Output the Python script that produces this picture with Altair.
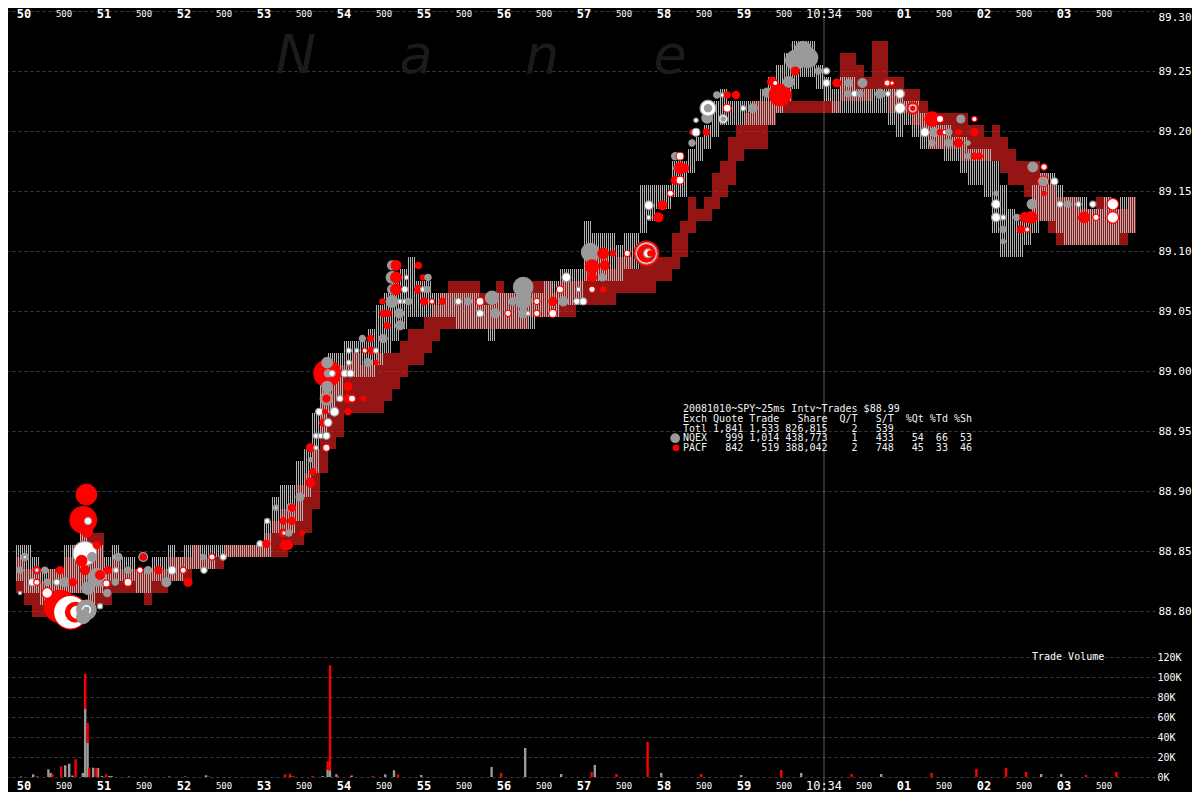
import altair as alt
import pandas as pd

MONO = "DejaVu Sans Mono"
GRID = "#3c3c3c"
NQEX_C = "#9a9a9a"
PACF_C = "#ff0000"
NQEX_Q = "#b4b4b4"
PACF_Q = "#f02020"

# ---------------------------------------------------------------- data
# Quote bands per 0.1 s slot (slot i starts -0.1 + 0.1*i s after 10:33:50), in cents above $88.00
nqex_bid = [83, 82, 82, 81, 80, 81, 82, 82, 82, 81,
            82, 83, 83, 83, 83, 82, 82, 83, 83, 83,
            83, 84, 84, 84, 84, 85, 85, 85, 85, 85,
            85, 85, 87, 87, 87, 88, 90, 92, 95, 97,
            98, 100, 100, 100, 100, 101, 102, 103, 104, 105,
            105, 105, 105, 105, 105, 104, 104, 104, 104, 103,
            104, 104, 104, 104, 104, 105, 105, 105, 106, 106,
            106, 108, 108, 108, 108, 108, 109, 109, 112, 113,
            114, 114, 115, 115, 117, 118, 119, 120, 121, 121,
            121, 121, 121, 121, 121, 122, 123, 124, 125, 125,
            124, 123, 122, 122, 122, 122, 122, 122, 122, 121,
            120, 121, 120, 119, 119, 119, 118, 118, 117, 116,
            116, 115, 112, 110, 110, 110, 111, 112, 113, 113,
            112, 111, 111, 111, 111, 111, 111, 111, 112, 112]
nqex_ask = [86, 86, 85, 84, 84, 84, 86, 86, 87, 86,
            86, 85, 86, 85, 85, 84, 84, 85, 85, 86,
            85, 86, 86, 86, 86, 86, 86, 86, 86, 86,
            86, 88, 90, 91, 91, 93, 94, 97, 101, 102,
            102, 103, 103, 103, 104, 106, 107, 108, 109, 110,
            108, 108, 107, 107, 107, 107, 107, 107, 106, 106,
            107, 107, 107, 106, 107, 107, 108, 108, 109, 109,
            109, 113, 112, 112, 112, 111, 112, 112, 116, 116,
            116, 116, 118, 118, 119, 120, 121, 123, 124, 123,
            123, 123, 123, 124, 125, 126, 127, 128, 128, 128,
            126, 125, 124, 125, 125, 124, 124, 124, 124, 124,
            124, 123, 123, 122, 122, 121, 121, 120, 120, 119,
            119, 119, 118, 116, 114, 113, 113, 116, 117, 117,
            116, 115, 115, 115, 114, 114, 115, 114, 115, 115]
pacf_bid = [82, 81, 80, 80, 80, 81, 82, 82, 82, 81,
            81, 81, 82, 82, 82, 82, 81, 82, 82, 83,
            83, 83, 84, 84, 84, 84, 85, 85, 85, 85,
            85, 85, 85, 85, 86, 86, 87, 89, 92, 94,
            95, 97, 97, 97, 97, 97, 98, 99, 100, 101,
            101, 102, 103, 104, 104, 104, 104, 104, 104, 104,
            104, 104, 104, 104, 105, 105, 105, 105, 105, 105,
            106, 106, 106, 106, 106, 107, 107, 107, 107, 107,
            108, 108, 109, 110, 112, 113, 113, 114, 115, 116,
            118, 119, 119, 119, 121, 122, 122, 122, 122, 122,
            122, 122, 122, 123, 123, 123, 123, 124, 124, 122,
            122, 122, 121, 120, 119, 119, 119, 119, 118, 118,
            118, 118, 118, 117, 116, 116, 115, 113, 113, 112,
            111, 111, 111, 111, 111, 111, 111, 111, 111, 112]
pacf_ask = [85, 84, 84, 83, 84, 84, 85, 86, 87, 87,
            87, 84, 85, 84, 84, 84, 84, 84, 84, 85,
            85, 85, 86, 85, 85, 85, 86, 86, 86, 86,
            86, 87, 88, 89, 89, 91, 92, 94, 99, 101,
            101, 101, 102, 101, 101, 102, 102, 102, 103, 104,
            104, 105, 106, 107, 108, 108, 108, 108, 107, 107,
            108, 107, 107, 107, 108, 108, 108, 107, 108, 108,
            108, 110, 110, 110, 109, 110, 110, 109, 110, 110,
            110, 110, 112, 113, 115, 114, 115, 117, 118, 120,
            121, 122, 123, 123, 123, 124, 124, 123, 123, 123,
            123, 123, 123, 127, 127, 126, 125, 128, 128, 125,
            125, 124, 124, 123, 122, 122, 122, 122, 122, 121,
            121, 120, 121, 120, 119, 118, 118, 118, 117, 116,
            115, 115, 115, 114, 114, 115, 115, 114, 114, 115]

# Trades: (seconds after 10:33:50, price, shares, kind) kind: g=NQEX, r=PACF, w/x = white marks
trades_50 = [
    (0.45, 88.804, 25900, "r"), (0.29, 88.815, 2900, "x"), (0.58, 88.799, 28900, "x"),
    (0.64, 88.799, 9700, "r"), (0.66, 88.799, 5100, "x"), (0.78, 88.801, 9700, "g"),
    (0.78, 88.801, 2900, "w"), (0.78, 88.801, 700, "g"), (0.74, 88.795, 4500, "g"),
    (0.95, 88.804, 700, "w"), (0.78, 88.897, 10600, "r"), (0.74, 88.876, 18000, "r"),
    (0.80, 88.875, 1300, "w"), (0.79, 88.866, 2900, "r"), (0.76, 88.848, 14600, "w"),
    (0.72, 88.842, 2900, "r"), (0.85, 88.845, 2000, "g"), (0.91, 88.855, 1300, "r"),
    (0.91, 88.828, 8000, "g"), (0.80, 88.819, 3900, "g"), (0.76, 88.834, 2000, "r"),
    (0.99, 88.824, 2000, "g"), (0.95, 88.830, 2000, "r"), (1.03, 88.823, 1300, "x"),
]
trades_51 = [
    (0.01, 88.845, 1300, "g"), (0.01, 88.845, 300, "w"), (1.15, 88.845, 700, "w"),
    (1.18, 88.845, 1300, "g"), (1.49, 88.845, 2000, "g"), (1.49, 88.845, 1000, "r"),
    (2.24, 88.845, 700, "g"), (2.35, 88.845, 1000, "x"), (2.49, 88.845, 1000, "w"),
    (-0.05, 88.834, 1000, "g"), (0.16, 88.834, 1300, "r"), (0.16, 88.834, 300, "w"),
    (0.26, 88.834, 1000, "g"), (0.45, 88.834, 1300, "r"), (1.05, 88.834, 1300, "r"),
    (1.15, 88.834, 700, "w"), (1.30, 88.834, 1000, "g"), (1.45, 88.834, 1000, "x"),
    (1.55, 88.834, 1300, "g"), (1.68, 88.834, 1300, "r"), (1.85, 88.834, 1600, "w"),
    (1.99, 88.834, 1000, "x"), (2.25, 88.834, 1000, "w"),
    (0.10, 88.824, 1300, "w"), (0.16, 88.824, 1000, "x"), (0.29, 88.824, 1000, "g"),
    (0.41, 88.824, 1000, "w"), (0.51, 88.824, 2000, "g"), (0.61, 88.824, 1300, "r"),
    (1.14, 88.824, 1000, "g"), (1.30, 88.824, 1600, "x"), (1.78, 88.824, 2000, "g"),
    (2.05, 88.824, 1600, "r"), (-0.05, 88.815, 300, "w"), (1.04, 88.815, 1300, "g"),
]
trades_53 = [
    (2.95, 88.856, 1000, "w"), (3.03, 88.856, 1300, "r"), (3.26, 88.855, 2000, "r"),
    (3.30, 88.855, 2000, "r"), (3.24, 88.865, 1600, "r"), (3.25, 88.865, 300, "w"),
    (3.31, 88.865, 1000, "g"), (3.48, 88.865, 500, "r"), (3.04, 88.875, 700, "w"),
    (3.24, 88.875, 1000, "r"), (3.35, 88.875, 1300, "r"), (3.15, 88.886, 700, "g"),
    (3.15, 88.886, 200, "w"), (3.33, 88.886, 1600, "g"), (3.35, 88.886, 1300, "r"),
    (3.45, 88.895, 1600, "g"), (3.58, 88.907, 2000, "r"), (3.61, 88.916, 1000, "r"),
    (3.58, 88.926, 500, "g"), (3.58, 88.936, 1600, "r"), (3.65, 88.936, 500, "w"),
    (3.78, 88.936, 1300, "x"), (3.65, 88.946, 700, "w"), (3.71, 88.946, 700, "w"),
    (3.78, 88.946, 1300, "w"), (3.74, 88.957, 1300, "r"), (3.80, 88.957, 1600, "w"),
    (3.69, 88.966, 1300, "w"), (3.76, 88.966, 500, "r"), (3.88, 88.966, 2000, "w"),
    (4.05, 88.966, 1000, "r"), (3.79, 88.998, 18000, "r"), (3.79, 89.007, 2900, "g"),
    (3.79, 88.987, 2900, "g"), (3.80, 88.998, 1300, "g"), (3.78, 88.977, 3900, "g"),
    (3.78, 88.977, 2000, "w"), (3.78, 88.977, 1300, "r"), (3.95, 88.977, 1000, "w"),
    (4.05, 88.977, 1600, "r"), (4.10, 88.977, 1300, "x"), (4.24, 88.977, 500, "r"),
    (4.05, 88.987, 1600, "r"), (3.85, 88.998, 1000, "w"), (4.01, 88.998, 1300, "w"),
    (4.08, 88.998, 1300, "w"), (4.06, 89.007, 700, "w"), (4.30, 89.007, 1600, "g"),
    (4.40, 89.007, 500, "r"), (4.06, 89.017, 700, "w"), (4.16, 89.017, 500, "w"),
    (4.26, 89.017, 700, "x"), (4.35, 89.017, 1300, "r"), (4.40, 89.017, 700, "w"),
]
trades_54 = [
    (4.23, 89.027, 1000, "g"), (4.33, 89.027, 1000, "r"), (4.49, 89.027, 1600, "g"),
    (4.54, 89.038, 1000, "r"), (4.70, 89.038, 2000, "g"), (4.49, 89.048, 1000, "r"),
    (4.55, 89.048, 1000, "r"), (4.69, 89.048, 2000, "g"), (4.48, 89.058, 700, "r"),
    (4.60, 89.058, 3400, "g"), (4.70, 89.058, 500, "w"), (4.76, 89.058, 500, "w"),
    (4.81, 89.058, 1000, "g"), (5.00, 89.058, 1300, "r"), (5.10, 89.058, 700, "x"),
    (5.23, 89.058, 1000, "r"), (5.41, 89.058, 700, "w"), (5.55, 89.058, 1300, "g"),
    (4.60, 89.068, 2000, "g"), (4.65, 89.068, 2900, "r"), (4.76, 89.068, 1000, "w"),
    (4.93, 89.068, 1600, "r"), (4.99, 89.068, 700, "w"), (5.04, 89.068, 1000, "g"),
    (4.60, 89.078, 3400, "g"), (4.65, 89.078, 2900, "r"), (4.78, 89.078, 500, "w"),
    (4.99, 89.078, 700, "r"), (5.05, 89.078, 1000, "g"), (4.60, 89.088, 2000, "g"),
    (4.65, 89.088, 2400, "r"), (4.93, 89.088, 1000, "r"),
]
trades_56 = [
    (5.43, 89.058, 1000, "w"), (5.70, 89.058, 1600, "x"), (5.85, 89.061, 4500, "g"),
    (6.11, 89.058, 1300, "g"), (6.24, 89.070, 9700, "g"), (6.24, 89.059, 6500, "g"),
    (6.41, 89.058, 1000, "x"), (6.61, 89.058, 1600, "r"), (6.74, 89.058, 2000, "g"),
    (6.91, 89.058, 1000, "w"), (6.99, 89.058, 1300, "w"), (5.70, 89.048, 1300, "w"),
    (5.89, 89.048, 2000, "g"), (6.05, 89.048, 1000, "x"), (6.24, 89.048, 2000, "g"),
    (6.30, 89.048, 500, "w"), (6.41, 89.048, 1000, "x"), (6.61, 89.048, 1600, "x"),
    (6.70, 89.068, 1300, "x"), (6.93, 89.068, 500, "w"), (7.10, 89.068, 1000, "x"),
    (7.24, 89.068, 700, "r"), (6.78, 89.078, 2000, "w"), (7.08, 89.099, 8000, "g"),
    (7.10, 89.087, 4500, "r"), (7.10, 89.078, 2000, "r"), (7.23, 89.078, 1300, "g"),
    (7.26, 89.088, 2000, "r"), (7.24, 89.098, 2900, "r"), (7.36, 89.098, 700, "r"),
    (7.54, 89.098, 1000, "x"), (7.78, 89.098, 15700, "r"), (7.78, 89.098, 11500, "w"),
    (7.78, 89.098, 8000, "r"), (7.80, 89.098, 2000, "w"), (7.83, 89.098, 700, "r"),
]
trades_58 = [
    (7.93, 89.128, 2000, "r"), (7.81, 89.128, 500, "w"), (7.81, 89.138, 2000, "w"),
    (7.98, 89.138, 2000, "r"), (8.08, 89.148, 1000, "x"), (8.14, 89.159, 1600, "r"),
    (8.20, 89.159, 1600, "x"), (8.16, 89.169, 1000, "g"), (8.20, 89.169, 2900, "r"),
    (8.26, 89.169, 1600, "r"), (8.14, 89.179, 1300, "g"), (8.20, 89.179, 1600, "x"),
    (8.35, 89.190, 1000, "g"), (8.35, 89.199, 500, "r"), (8.40, 89.199, 1600, "w"),
    (8.53, 89.199, 1000, "r"), (8.40, 89.209, 500, "w"), (8.54, 89.211, 2900, "g"),
    (8.55, 89.219, 6500, "w"), (8.55, 89.219, 1300, "g"), (8.79, 89.219, 1600, "x"),
    (8.99, 89.219, 700, "w"), (9.11, 89.219, 2000, "g"), (8.74, 89.210, 2000, "w"),
    (8.74, 89.210, 500, "g"), (8.66, 89.230, 1000, "g"), (8.73, 89.230, 500, "w"),
    (8.79, 89.230, 1000, "r"), (8.90, 89.230, 1300, "r"),
]
trades_59 = [
    (9.29, 89.232, 2000, "g"), (9.45, 89.230, 11500, "r"), (9.35, 89.241, 2000, "r"),
    (9.39, 89.240, 700, "x"), (9.56, 89.241, 2900, "g"), (9.64, 89.259, 9700, "g"),
    (9.80, 89.261, 9700, "g"), (9.74, 89.268, 6500, "g"), (9.64, 89.250, 1600, "r"),
    (9.93, 89.250, 1000, "g"), (10.03, 89.250, 1000, "w"), (10.03, 89.240, 1300, "w"),
    (10.16, 89.240, 1600, "r"), (10.31, 89.240, 1300, "g"), (10.48, 89.240, 2000, "g"),
    (10.79, 89.240, 1000, "x"), (10.85, 89.240, 500, "x"), (10.30, 89.231, 1000, "g"),
    (10.38, 89.231, 1000, "w"), (10.45, 89.231, 1000, "g"), (10.70, 89.231, 2000, "g"),
    (10.80, 89.231, 700, "w"), (10.95, 89.231, 2000, "w"), (10.95, 89.219, 2900, "w"),
    (11.11, 89.219, 3400, "r"), (11.11, 89.219, 1600, "w"), (11.11, 89.219, 500, "r"),
]
trades_01 = [
    (11.35, 89.210, 5100, "r"), (11.45, 89.210, 1300, "x"), (11.71, 89.210, 1600, "g"),
    (11.88, 89.210, 700, "x"), (11.26, 89.199, 2000, "w"), (11.38, 89.199, 2000, "g"),
    (11.45, 89.199, 700, "r"), (11.51, 89.199, 700, "x"), (11.56, 89.199, 1000, "g"),
    (11.68, 89.199, 700, "r"), (11.88, 89.199, 1300, "r"), (11.35, 89.190, 1000, "g"),
    (11.56, 89.190, 1300, "g"), (11.68, 89.190, 1600, "r"), (11.80, 89.190, 500, "g"),
    (11.80, 89.179, 700, "g"), (11.88, 89.179, 1000, "r"), (11.94, 89.179, 1000, "r"),
    (12.61, 89.170, 2400, "g"), (12.75, 89.170, 1000, "x"), (12.74, 89.158, 2900, "x"),
    (12.74, 89.158, 1600, "g"), (12.88, 89.158, 1300, "w"), (12.75, 89.148, 500, "r"),
    (12.15, 89.148, 500, "g"), (12.15, 89.139, 2000, "w"), (12.60, 89.139, 2400, "g"),
    (12.95, 89.139, 1000, "w"), (13.05, 89.139, 1000, "g"), (13.18, 89.139, 700, "w"),
    (13.36, 89.139, 1000, "w"), (13.61, 89.139, 3400, "x"), (12.15, 89.128, 2000, "w"),
    (12.24, 89.128, 700, "w"), (12.41, 89.128, 1000, "g"), (12.51, 89.128, 2400, "r"),
    (12.59, 89.128, 3400, "r"), (13.25, 89.128, 2900, "r"), (13.40, 89.128, 1000, "x"),
    (13.61, 89.128, 3400, "x"), (12.24, 89.118, 1000, "g"), (12.46, 89.118, 1300, "r"),
    (12.54, 89.118, 700, "x"), (12.24, 89.108, 500, "g"),
]

# Trade volume per 25 ms interval: (seconds after 10:33:50, NQEX K shares, PACF K shares)
volume_50 = [
    (-0.05, 0.5, 0), (0.10, 2.7, 0), (0.15, 0, 1), (0.29, 7.7, 0), (0.32, 4, 0),
    (0.34, 0, 3), (0.45, 0, 10.7), (0.50, 11.7, 0), (0.55, 13.3, 0), (0.59, 1, 1),
    (0.63, 0, 17.7), (0.72, 4, 0), (0.75, 68, 35), (0.78, 34, 20), (0.80, 0, 9.3),
    (0.85, 9.3, 0), (0.89, 0, 9), (0.91, 9, 0), (0.96, 1, 0), (1.01, 0, 2.7),
    (1.05, 1, 0), (1.08, 1, 0), (1.30, 0.5, 0), (1.50, 0, 0.5), (1.80, 0.5, 0),
    (2.00, 0.5, 0), (2.26, 1.7, 0), (2.30, 0, 0.5),
]
volume_53 = [
    (3.25, 0, 2.7), (3.31, 0.7, 2.7), (3.35, 0, 1), (3.59, 0, 1), (3.72, 1, 0),
    (3.78, 7.3, 8.4), (3.81, 6.7, 105), (3.89, 2.7, 0), (3.91, 0, 1), (4.08, 1, 1),
    (4.34, 0, 1), (4.50, 2.7, 0), (4.61, 6.7, 0), (4.66, 0, 2.7), (4.95, 2, 0),
]
volume_55 = [
    (5.83, 10, 0), (5.95, 0, 4), (6.25, 29, 0), (6.70, 3, 0), (7.08, 0, 5),
    (7.12, 12, 0), (7.39, 0, 3), (7.78, 0, 35), (7.95, 4, 0), (8.45, 0, 3),
    (8.95, 2, 0), (9.45, 0, 7), (9.70, 4, 0), (10.33, 0, 3), (10.70, 3, 0),
    (11.33, 0, 4), (11.89, 0, 8), (12.26, 0, 9), (12.51, 0, 5), (12.70, 3, 0),
    (12.95, 3, 0), (13.26, 0, 2), (13.64, 0, 5),
]

price_ticks = [88.80, 88.85, 88.90, 88.95, 89.00, 89.05, 89.10, 89.15, 89.20, 89.25, 89.30]
volume_ticks = [0, 20, 40, 60, 80, 100, 120]
second_labels = ["50", "51", "52", "53", "54", "55", "56", "57", "58", "59", "10:34", "01", "02", "03"]
half_label = "500"

legend_lines = [
    "20081010~SPY~25ms Intv~Trades $88.99",
    "Exch Quote Trade   Share  Q/T   S/T  %Qt %Td %Sh",
    "Totl 1,841 1,533 826,815    2   539",
    "NQEX   999 1,014 438,773    1   433   54  66  53",
    "PACF   842   519 388,042    2   748   45  33  46",
]
legend_prices = [88.968, 88.960, 88.952, 88.944, 88.936]
watermark = ["N", "a", "n", "e", "x"]
watermark_t = [3.4, 4.9, 6.475, 8.075, 9.7]

# ---------------------------------------------------------------- scales
xs = alt.Scale(domain=[-0.2, 14.1375], nice=False, zero=False)
PDOM = [88.649167, 89.3025]
VDOM = [-15, 769]


def ps():
    return alt.Scale(domain=PDOM, nice=False, zero=False)


def vs():
    return alt.Scale(domain=VDOM, nice=False, zero=False)


NB = "\u00a0"


def quote_slots(bid, ask):
    t0 = [-0.1 + 0.1 * i for i in range(len(bid))]
    return pd.DataFrame({"t0": t0, "t1": [t + 0.1 for t in t0],
                         "lo": [88 + (b - 0.5) / 100 for b in bid],
                         "hi": [88 + (a - 0.5) / 100 for a in ask]})


def quote_lines(bid, ask):
    # every 0.1 s slot holds four 25 ms quote intervals, each drawn as a thin line
    rows = []
    for i, (b, a) in enumerate(zip(bid, ask)):
        t0 = -0.1 + 0.1 * i
        for k in range(4):
            s = t0 + 0.025 * k
            rows.append((s, s + 0.0125, 88 + (b - 0.5) / 100, 88 + (a - 0.5) / 100))
    return pd.DataFrame(rows, columns=["t0", "t1", "lo", "hi"])


q_pacf = quote_slots(pacf_bid, pacf_ask)
q_nqex = quote_lines(nqex_bid, nqex_ask)

all_trades = trades_50 + trades_51 + trades_53 + trades_54 + trades_56 + trades_58 + trades_59 + trades_01
tdf = pd.DataFrame(all_trades, columns=["t", "p", "sh", "k"])
tdf["n"] = range(len(tdf))

vdf = pd.DataFrame(volume_50 + volume_53 + volume_55, columns=["t", "nq", "pa"])
vdf["t1"] = vdf["t"] + 0.03
vdf["z"] = 0.0
vdf["top"] = vdf["nq"] + vdf["pa"]

grid_t = [k * 0.5 for k in range(28)]

x_grid_axis = alt.Axis(values=grid_t, grid=True, labels=False, ticks=False, domain=False, title=None,
                       gridColor=GRID, gridDash=[3, 3], gridWidth=1, orient="bottom")
price_axis = alt.Axis(orient="right", values=price_ticks, format=".2f", grid=True, gridColor=GRID,
                      gridDash=[3, 3], ticks=False, domain=False, title=None, labelColor="#ffffff",
                      labelFont=MONO, labelFontSize=11, labelPadding=3, labelAlign="left",
                      labelFlush=6)
vol_axis = alt.Axis(orient="right", values=volume_ticks, labelExpr="datum.value + 'K'", grid=True,
                    gridColor=GRID, gridDash=[3, 3], ticks=False, domain=False, title=None,
                    labelColor="#ffffff", labelFont=MONO, labelFontSize=10, labelPadding=2,
                    labelAlign="left")

XN = lambda f: alt.X(f, type="quantitative", scale=xs, axis=None)

# ---------------------------------------------------------------- price panel
wm = alt.Chart(pd.DataFrame({"t": watermark_t, "p": [89.248] * 5, "s": watermark})).mark_text(
    font="DejaVu Sans", fontSize=54, fontStyle="italic", color="#1b1b1b", baseline="alphabetic"
).encode(x=XN("t"), y=alt.Y("p:Q", scale=ps(), axis=None), text="s:N")

vline = alt.Chart(pd.DataFrame({"t": [10.0]})).mark_rule(color="#5c5c5c", strokeWidth=1).encode(x=XN("t"))

# PACF quotes: one rect per slot, partial-strength red (the 25 ms red lines average out to this)
qr = alt.Chart(q_pacf).mark_rect(color=PACF_Q, opacity=0.62, strokeWidth=0).encode(
    x=alt.X("t0:Q", scale=xs, axis=x_grid_axis), x2="t1:Q",
    y=alt.Y("lo:Q", scale=ps(), axis=price_axis), y2="hi:Q")
# NQEX quotes: thin grey 25 ms lines
qg = alt.Chart(q_nqex).mark_rect(color=NQEX_Q, opacity=1, strokeWidth=0).encode(
    x=XN("t0"), x2="t1:Q",
    y=alt.Y("lo:Q", scale=ps(), axis=None), y2="hi:Q")

kinds = ["g", "r", "w", "x"]
trades = alt.Chart(tdf).mark_circle(opacity=1, strokeWidth=1.2).encode(
    x=XN("t"),
    y=alt.Y("p:Q", scale=ps(), axis=None),
    size=alt.Size("sh:Q", scale=alt.Scale(domain=[0, 40000], range=[0, 1571]), legend=None),
    fill=alt.Fill("k:N", scale=alt.Scale(domain=kinds, range=[NQEX_C, PACF_C, "#ffffff", "#ffffff"]), legend=None),
    stroke=alt.Stroke("k:N", scale=alt.Scale(domain=kinds, range=[NQEX_C, PACF_C, NQEX_C, PACF_C]), legend=None),
    order=alt.Order("n:Q"),
)

leg_df = pd.DataFrame({"t": [8.2375] * 5, "p": legend_prices,
                       "s": [s.replace(" ", NB) for s in legend_lines]})
leg_text = alt.Chart(leg_df).mark_text(font=MONO, fontSize=10, color="#f2f2f2", align="left",
                                       baseline="middle").encode(
    x=XN("t"), y=alt.Y("p:Q", scale=ps(), axis=None), text="s:N")
leg_gray = alt.Chart(pd.DataFrame({"t": [8.14], "p": [88.944]})).mark_circle(
    opacity=1, color=NQEX_C, size=95).encode(x=XN("t"), y=alt.Y("p:Q", scale=ps(), axis=None))
leg_red = alt.Chart(pd.DataFrame({"t": [8.15], "p": [88.936]})).mark_circle(
    opacity=1, color=PACF_C, size=45).encode(x=XN("t"), y=alt.Y("p:Q", scale=ps(), axis=None))

major_df = pd.DataFrame({"t": [float(i) for i in range(14) if i != 10],
                         "s": [s for i, s in enumerate(second_labels) if i != 10]})
time_df = pd.DataFrame({"t": [10.0], "s": [second_labels[10]]})
minor_df = pd.DataFrame({"t": [i + 0.5 for i in range(14)], "s": [half_label] * 14})


def label_layers(val, scale_fn, field):
    out = []
    for df, size, weight in [(major_df, 12, "bold"), (time_df, 12, "normal"), (minor_df, 9, "normal")]:
        d = df.copy()
        d[field] = val
        out.append(alt.Chart(d).mark_text(font=MONO, fontSize=size, fontWeight=weight, color="#ffffff",
                                          baseline="middle").encode(
            x=XN("t"), y=alt.Y(f"{field}:Q", scale=scale_fn(), axis=None), text="s:N"))
    return out


top_labels = label_layers(89.2975, ps, "p")

# ---------------------------------------------------------------- volume panel
vg = alt.Chart(vdf).mark_bar(color=NQEX_C).encode(
    x=XN("t"), x2="t1:Q",
    y=alt.Y("z:Q", scale=vs(), axis=vol_axis), y2="nq:Q")
vr = alt.Chart(vdf).mark_bar(color=PACF_C).encode(
    x=XN("t"), x2="t1:Q",
    y=alt.Y("nq:Q", scale=vs(), axis=None), y2="top:Q")
vtitle = alt.Chart(pd.DataFrame({"t": [12.6], "v": [120], "s": ["Trade Volume"]})).mark_text(
    font=MONO, fontSize=10, color="#ffffff", align="left", baseline="middle").encode(
    x=XN("t"), y=alt.Y("v:Q", scale=vs(), axis=None), text="s:N")
bottom_labels = label_layers(-8.5, vs, "v")

chart = alt.layer(
    wm, vline, qr, qg, trades, leg_gray, leg_red, leg_text, *top_labels,
    vg, vr, vtitle, *bottom_labels,
).resolve_scale(y="independent", fill="independent", stroke="independent",
                color="independent", size="independent").properties(
    width=1147, height=784, background="#000000",
    padding={"left": 0, "top": 0, "right": 37, "bottom": 0},
    autosize=alt.AutoSizeParams(type="none"),
).configure_view(stroke=None)

chart.save("out.html", embed_options={"renderer": "svg", "actions": False})
